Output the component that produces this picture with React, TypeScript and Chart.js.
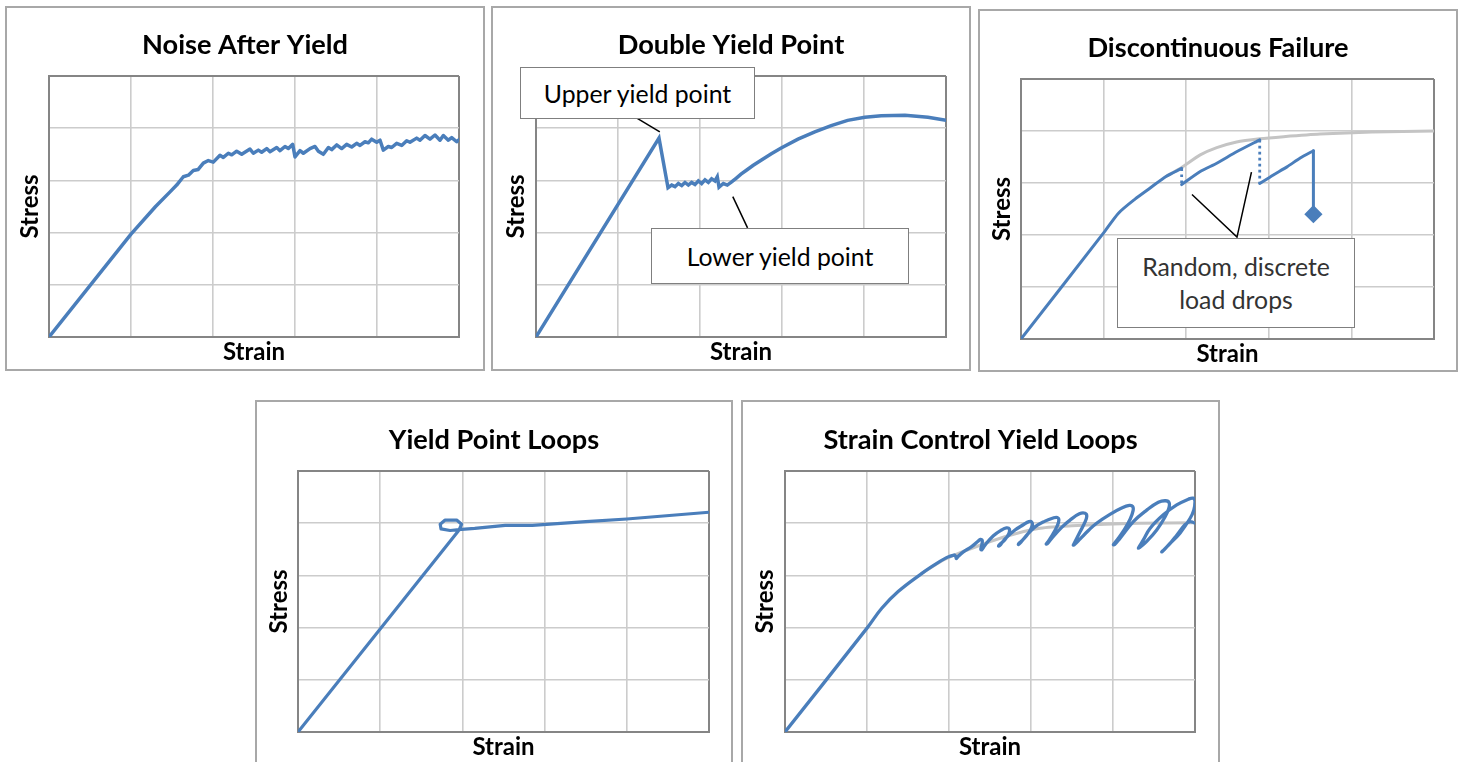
import React, { useEffect, useRef } from "react";
import { Chart, registerables } from "chart.js";

Chart.register(...registerables);

// ---------------- data (grid units: strain 0..5, stress 0..5) ----------------
const noiseStrain = [
  0, 1.0, 1.3, 1.476, 1.557, 1.638, 1.7, 1.76, 1.82, 1.882, 1.943, 2.004, 2.085, 2.126, 2.187, 2.228,
  2.289, 2.35, 2.451, 2.492, 2.553, 2.593, 2.655, 2.695, 2.777, 2.817, 2.878, 2.919, 2.972, 3.0, 3.061,
  3.102, 3.183, 3.244, 3.285, 3.346, 3.407, 3.447, 3.508, 3.569, 3.63, 3.691, 3.752, 3.793, 3.854, 3.894,
  3.935, 3.996, 4.037, 4.077, 4.138, 4.179, 4.24, 4.301, 4.362, 4.402, 4.484, 4.524, 4.585, 4.646, 4.707,
  4.768, 4.809, 4.87, 4.911, 4.972, 5.0,
];
const noiseStress = [
  0, 1.97, 2.5, 2.78, 2.91, 3.07, 3.1, 3.19, 3.21, 3.33, 3.38, 3.35, 3.48, 3.44, 3.52, 3.49,
  3.56, 3.5, 3.6, 3.52, 3.58, 3.54, 3.61, 3.55, 3.63, 3.57, 3.65, 3.61, 3.69, 3.45, 3.57,
  3.52, 3.61, 3.65, 3.56, 3.5, 3.63, 3.59, 3.68, 3.61, 3.69, 3.64, 3.71, 3.67, 3.74, 3.72,
  3.79, 3.73, 3.77, 3.58, 3.65, 3.63, 3.71, 3.67, 3.76, 3.73, 3.81, 3.77, 3.86, 3.79, 3.87,
  3.77, 3.86, 3.77, 3.82, 3.74, 3.78,
];

const doubleStrain = [
  0, 1.5, 1.61, 1.655, 1.695, 1.736, 1.777, 1.817, 1.858, 1.898, 1.939, 1.98, 2.02, 2.061, 2.102, 2.142,
  2.183, 2.211, 2.232, 2.285, 2.333, 2.386, 2.44, 2.5, 2.57, 2.65, 2.75, 2.87, 2.99, 3.195, 3.4, 3.6,
  3.8, 4.01, 4.21, 4.5, 4.78, 5.0,
];
const doubleStress = [
  0, 3.81, 2.86, 2.91, 2.88, 2.94, 2.9, 2.96, 2.91, 2.96, 2.92, 2.99, 2.94, 3.01, 2.96, 3.03,
  2.99, 3.07, 2.87, 2.94, 2.91, 2.97, 3.04, 3.12, 3.2, 3.29, 3.39, 3.51, 3.62, 3.79, 3.93, 4.05,
  4.15, 4.21, 4.24, 4.25, 4.21, 4.15,
];
const upperLeaderStrain = [1.235, 1.51];
const upperLeaderStress = [4.19, 3.93];
const lowerLeaderStrain = [2.4, 2.58];
const lowerLeaderStress = [2.69, 2.09];

const disc1Strain = [0, 1.0, 1.18, 1.38, 1.56, 1.76, 1.945];
const disc1Stress = [0, 2.04, 2.42, 2.69, 2.9, 3.13, 3.28];
const disc2Strain = [1.945, 2.17, 2.37, 2.61, 2.89];
const disc2Stress = [2.97, 3.22, 3.38, 3.6, 3.83];
const disc3Strain = [2.89, 3.05, 3.22, 3.38, 3.54];
const disc3Stress = [2.99, 3.15, 3.31, 3.48, 3.62];
const discFailStrain = [3.54, 3.54];
const discFailStress = [3.62, 2.4];
const discDrop1Strain = [1.945, 1.945];
const discDrop1Stress = [3.28, 2.97];
const discDrop2Strain = [2.89, 2.89];
const discDrop2Stress = [3.83, 2.99];
const discBaseStrain = [1.76, 1.945, 2.17, 2.37, 2.61, 2.89, 3.18, 3.62, 4.25, 5.0];
const discBaseStress = [3.13, 3.3, 3.54, 3.68, 3.79, 3.85, 3.89, 3.94, 3.98, 4.0];
const discLeaderStrain = [2.07, 2.615, 2.79];
const discLeaderStress = [2.78, 1.96, 3.21];

const loopStrain = [0, 1.96, 1.99, 1.93, 1.79, 1.73, 1.74, 1.85, 1.99, 2.15, 2.52, 2.85, 3.5, 4.0, 5.0];
const loopStress = [0, 3.87, 3.98, 4.06, 4.06, 3.98, 3.89, 3.86, 3.88, 3.9, 3.96, 3.96, 4.03, 4.08, 4.21];

const scStrain = [
  0, 1.0, 1.18, 1.38, 1.67, 1.77, 1.97, 2.06, 2.08, 2.09, 2.11, 2.175, 2.276,
  2.35, 2.385, 2.405, 2.4, 2.388, 2.4, 2.439,
  2.541, 2.64, 2.7, 2.735, 2.73, 2.68, 2.61, 2.605, 2.63, 2.683,
  2.805, 2.906, 2.975, 3.01, 3.015, 2.97, 2.9, 2.85, 2.847, 2.875, 2.93,
  3.049, 3.171, 3.27, 3.32, 3.34, 3.32, 3.26, 3.2, 3.185, 3.2, 3.252,
  3.374, 3.476, 3.59, 3.66, 3.68, 3.655, 3.6, 3.535, 3.516, 3.53, 3.6,
  3.7, 3.8, 3.963, 4.106, 4.2, 4.24, 4.245, 4.21, 4.14, 4.05, 4.005, 4.02, 4.08,
  4.248, 4.411, 4.553, 4.64, 4.685, 4.68, 4.634, 4.533, 4.411, 4.33, 4.31, 4.32,
  4.37, 4.451, 4.614, 4.777, 4.919, 4.975, 5.0, 4.985, 4.939, 4.817, 4.675, 4.61, 4.594, 4.62, 4.7,
  4.777, 4.878, 4.94, 5.0,
];
const scStress = [
  0, 1.99, 2.37, 2.69, 3.04, 3.15, 3.34, 3.39, 3.37, 3.32, 3.36, 3.45, 3.55,
  3.65, 3.69, 3.67, 3.58, 3.5, 3.49, 3.58,
  3.76, 3.87, 3.91, 3.89, 3.8, 3.68, 3.58, 3.56, 3.59, 3.7,
  3.87, 3.97, 4.03, 4.02, 3.95, 3.81, 3.68, 3.61, 3.59, 3.63, 3.74,
  3.93, 4.04, 4.1, 4.11, 4.06, 3.95, 3.77, 3.63, 3.6, 3.61, 3.71,
  3.92, 4.06, 4.18, 4.19, 4.13, 4.01, 3.84, 3.64, 3.58, 3.59, 3.7,
  3.86, 4.0, 4.17, 4.29, 4.34, 4.32, 4.24, 4.08, 3.88, 3.68, 3.59, 3.59, 3.7,
  4.03, 4.25, 4.4, 4.43, 4.39, 4.28, 4.12, 3.87, 3.65, 3.54, 3.52, 3.55,
  3.68, 3.9, 4.16, 4.35, 4.46, 4.48, 4.42, 4.25, 4.09, 3.81, 3.58, 3.47, 3.45, 3.49, 3.62,
  3.77, 3.97, 4.03, 4.0,
];
const scBaseStrain = [1.67, 1.95, 2.28, 2.68, 3.09, 3.5, 3.9, 4.31, 5.0];
const scBaseStress = [3.04, 3.31, 3.52, 3.74, 3.9, 3.95, 3.98, 4.0, 4.01];

const axisRange = [0, 5];
const titles = [
  "Noise After Yield",
  "Double Yield Point",
  "Discontinuous Failure",
  "Yield Point Loops",
  "Strain Control Yield Loops",
];
const xAxisTitle = "Strain";
const yAxisTitle = "Stress";

// ---------------- styling ----------------
const BLUE = "#4a7ebb";
const BASE_GRAY = "#c4c4c4";
const GRID = "#cccccc";
const FRAME = "#858585";
const FONT = "Lato, 'Open Sans', sans-serif";
const TITLE_SIZE = 27.2;
const AXIS_SIZE = 24;
const CALLOUT_SIZE = 24.8;

const pts = (xs: number[], ys: number[]) => xs.map((x, i) => ({ x, y: ys[i] }));

type PanelCfg = {
  left: number;
  top: number;
  width: number;
  height: number;
  plotL: number;
  plotR: number;
  plotT: number;
  plotB: number;
  titleY: number;
  stressX: number;
  strainY: number;
  title: string;
  datasets: any[];
};

const blueLine = (data: any[], extra: any = {}) => ({
  data,
  showLine: true,
  borderColor: BLUE,
  backgroundColor: BLUE,
  borderWidth: 3.5,
  pointRadius: 0,
  tension: 0,
  borderJoinStyle: "round",
  borderCapStyle: "round",
  ...extra,
});
const dottedBlue = (data: any[]) => ({
  data,
  showLine: true,
  borderColor: BLUE,
  borderWidth: 2.8,
  borderDash: [2.6, 3.4],
  borderCapStyle: "butt",
  pointRadius: 0,
  tension: 0,
});
const grayLine = (data: any[]) => ({
  data,
  showLine: true,
  borderColor: BASE_GRAY,
  borderWidth: 3,
  pointRadius: 0,
  tension: 0.2,
  borderCapStyle: "round",
});
const leader = (data: any[]) => ({
  data,
  showLine: true,
  borderColor: "#000",
  borderWidth: 1.5,
  pointRadius: 0,
  tension: 0,
});

const panels: PanelCfg[] = [
  {
    left: 5, top: 6, width: 480, height: 365,
    plotL: 42, plotR: 452, plotT: 68, plotB: 329, titleY: 37, stressX: 23, strainY: 344,
    title: titles[0],
    datasets: [blueLine(pts(noiseStrain, noiseStress))],
  },
  {
    left: 491, top: 6, width: 480, height: 365,
    plotL: 43, plotR: 453, plotT: 68, plotB: 329, titleY: 37, stressX: 23, strainY: 344,
    title: titles[1],
    datasets: [
      blueLine(pts(doubleStrain, doubleStress), { borderJoinStyle: "miter" }),
      leader(pts(upperLeaderStrain, upperLeaderStress)),
      leader(pts(lowerLeaderStrain, lowerLeaderStress)),
    ],
  },
  {
    left: 978, top: 9, width: 480, height: 363,
    plotL: 41, plotR: 454, plotT: 68, plotB: 328, titleY: 37, stressX: 22, strainY: 343,
    title: titles[2],
    datasets: [
      blueLine(pts(disc1Strain, disc1Stress), { borderWidth: 3, tension: 0.25 }),
      blueLine(pts(disc2Strain, disc2Stress), { borderWidth: 3, tension: 0.2 }),
      blueLine(pts(disc3Strain, disc3Stress), { borderWidth: 3, tension: 0.2 }),
      blueLine(pts(discFailStrain, discFailStress), {
        borderWidth: 3,
        pointStyle: "rectRot",
        pointRadius: [0, 7],
      }),
      dottedBlue(pts(discDrop1Strain, discDrop1Stress)),
      dottedBlue(pts(discDrop2Strain, discDrop2Stress)),
      grayLine(pts(discBaseStrain, discBaseStress)),
      leader(pts(discLeaderStrain, discLeaderStress)),
    ],
  },
  {
    left: 255, top: 400, width: 478, height: 365,
    plotL: 41, plotR: 452, plotT: 69, plotB: 330, titleY: 38, stressX: 22, strainY: 345,
    title: titles[3],
    datasets: [blueLine(pts(loopStrain, loopStress), { borderWidth: 3.2 })],
  },
  {
    left: 741, top: 400, width: 479, height: 365,
    plotL: 42, plotR: 452, plotT: 69, plotB: 330, titleY: 38, stressX: 22, strainY: 345,
    title: titles[4],
    datasets: [
      blueLine(pts(scStrain, scStress), { borderWidth: 3.3, tension: 0.4 }),
      grayLine(pts(scBaseStrain, scBaseStress)),
    ],
  },
];

const callouts = [
  { left: 520, top: 67, width: 235, height: 52, lines: ["Upper yield point"], color: "#000" },
  { left: 651, top: 228, width: 258, height: 56, lines: ["Lower yield point"], color: "#000" },
  { left: 1117, top: 238, width: 238, height: 90, lines: ["Random, discrete", "load drops"], color: "#333" },
];

function gridColor(c: any) {
  const v = c.tick ? c.tick.value : null;
  return v === axisRange[0] || v === axisRange[1] ? FRAME : GRID;
}
function gridWidth(c: any) {
  const v = c.tick ? c.tick.value : null;
  return v === axisRange[0] || v === axisRange[1] ? 2 : 1.6;
}

function buildConfig(p: PanelCfg): any {
  const innerW = p.width - 4;
  const innerH = p.height - 4;
  const axisFont = { family: FONT, weight: "bold", size: AXIS_SIZE, lineHeight: 1 };
  return {
    type: "scatter",
    data: { datasets: p.datasets },
    options: {
      responsive: false,
      animation: false,
      events: [],
      layout: { padding: 0 },
      plugins: {
        legend: { display: false },
        tooltip: { enabled: false },
        title: {
          display: true,
          text: p.title,
          color: "#000",
          font: { family: FONT, weight: "bold", size: TITLE_SIZE, lineHeight: 1 },
          padding: { top: p.titleY - TITLE_SIZE / 2, bottom: p.plotT - p.titleY - TITLE_SIZE / 2 },
        },
      },
      scales: {
        x: {
          type: "linear",
          min: axisRange[0],
          max: axisRange[1],
          ticks: { display: false, stepSize: 1 },
          grid: { color: gridColor, lineWidth: gridWidth, drawTicks: false },
          border: { display: true, color: FRAME, width: 2 },
          title: {
            display: true,
            text: xAxisTitle,
            color: "#000",
            font: axisFont,
            padding: { top: 0, bottom: innerH - p.strainY - AXIS_SIZE / 2 },
          },
          afterFit: (s: any) => {
            s.height = innerH - p.plotB;
          },
        },
        y: {
          type: "linear",
          min: axisRange[0],
          max: axisRange[1],
          ticks: { display: false, stepSize: 1 },
          grid: { color: gridColor, lineWidth: gridWidth, drawTicks: false },
          border: { display: true, color: FRAME, width: 2 },
          title: {
            display: true,
            text: yAxisTitle,
            color: "#000",
            font: axisFont,
            padding: { top: p.stressX - AXIS_SIZE / 2, bottom: 0 },
          },
          afterFit: (s: any) => {
            s.width = p.plotL;
          },
        },
        rightGap: {
          type: "linear",
          axis: "y",
          position: "right",
          min: axisRange[0],
          max: axisRange[1],
          ticks: { display: false },
          grid: { display: false, drawTicks: false },
          border: { display: false },
          title: { display: false },
          afterFit: (s: any) => {
            s.width = innerW - p.plotR;
          },
        },
      },
    },
  };
}

function Panel({ p }: { p: PanelCfg }) {
  const ref = useRef<HTMLCanvasElement>(null);
  useEffect(() => {
    if (!ref.current) return;
    const chart = new Chart(ref.current, buildConfig(p));
    return () => chart.destroy();
  }, [p]);
  return (
    <div
      style={{
        position: "absolute",
        left: p.left,
        top: p.top,
        width: p.width,
        height: p.height,
        border: "2px solid #a8a8a8",
        boxSizing: "border-box",
        background: "#fff",
      }}
    >
      <canvas
        ref={ref}
        width={p.width - 4}
        height={p.height - 4}
        style={{ display: "block", width: p.width - 4, height: p.height - 4 }}
      />
    </div>
  );
}

export default function App() {
  return (
    <div
      style={{
        position: "fixed",
        left: 0,
        top: 0,
        width: 1460,
        height: 762,
        overflow: "hidden",
        background: "#fff",
      }}
    >
      {panels.map((p, i) => (
        <Panel key={i} p={p} />
      ))}
      {callouts.map((c, i) => (
        <div
          key={"c" + i}
          style={{
            position: "absolute",
            left: c.left,
            top: c.top,
            width: c.width,
            height: c.height,
            boxSizing: "border-box",
            border: "1px solid #7f7f7f",
            background: "#fff",
            display: "flex",
            flexDirection: "column",
            alignItems: "center",
            justifyContent: "center",
            fontFamily: FONT,
            fontSize: CALLOUT_SIZE,
            lineHeight: "33px",
            color: c.color,
          }}
        >
          {c.lines.map((t, j) => (
            <div key={j}>{t}</div>
          ))}
        </div>
      ))}
    </div>
  );
}
